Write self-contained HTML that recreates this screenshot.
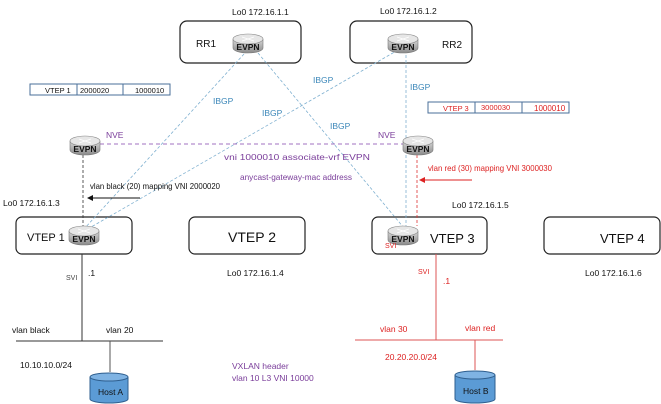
<!DOCTYPE html><html><head><style>body{margin:0;background:#fff}svg{display:block}text{font-family:"Liberation Sans Narrow","Liberation Sans",sans-serif}</style></head><body>
<svg width="661" height="404" viewBox="0 0 661 404" xmlns="http://www.w3.org/2000/svg">
<defs>
<linearGradient id="g" x1="0" y1="0" x2="0" y2="1"><stop offset="0" stop-color="#d8d8d8"/><stop offset="1" stop-color="#8a8a8a"/></linearGradient>
<g id="r"><path d="M-15,-4 v9 a15,5 0 0 0 30,0 v-9" fill="url(#g)" stroke="#777" stroke-width="0.6"/><ellipse cx="0" cy="-4" rx="15" ry="5" fill="#e6e6e6" stroke="#888" stroke-width="0.6"/><path d="M-6,-6 l12,4 M6,-6 l-12,4" stroke="#fff" stroke-width="0.8"/><text x="0" y="7" font-size="8.5" font-weight="bold" text-anchor="middle" fill="#111">EVPN</text></g>
</defs>
<g fill="none" stroke-width="1.2" stroke="#222">
<rect x="180" y="21" width="121" height="42" rx="7"/><rect x="350" y="21" width="122" height="42" rx="7"/>
<rect x="16" y="217" width="116" height="37" rx="6"/><rect x="189" y="217" width="116" height="37" rx="6"/>
<rect x="372" y="217" width="115" height="37" rx="6"/><rect x="544" y="217" width="116" height="37" rx="6"/>
</g>
<g stroke="#7fb0d0" stroke-width="0.8" stroke-dasharray="3,2" fill="none">
<line x1="244" y1="54" x2="84" y2="229"/><line x1="398" y1="50" x2="86" y2="230"/>
<line x1="258" y1="53" x2="404" y2="228"/><line x1="406" y1="55" x2="406" y2="228"/>
</g>
<line x1="100" y1="144" x2="404" y2="144" stroke="#a070c0" stroke-width="1" stroke-dasharray="4,3"/>
<line x1="83" y1="155" x2="83" y2="226" stroke="#333" stroke-width="0.8" stroke-dasharray="3,2"/>
<line x1="417" y1="155" x2="417" y2="226" stroke="#d33" stroke-width="0.8" stroke-dasharray="3,2"/>
<line x1="140" y1="198" x2="91" y2="198" stroke="#111"/><path d="M87,198 l6,-3 v6z" fill="#111"/>
<line x1="472" y1="180" x2="424" y2="180" stroke="#d22"/><path d="M419,180 l6,-3 v6z" fill="#d22"/>
<use href="#r" x="248" y="43"/><use href="#r" x="403" y="43"/><use href="#r" x="85" y="145"/><use href="#r" x="418" y="145"/><use href="#r" x="84" y="235"/><use href="#r" x="403" y="235"/>
<g fill="none" stroke-width="1">
<rect x="30" y="84" width="140" height="11" stroke="#4a6f9a"/><line x1="77" y1="84" x2="77" y2="95" stroke="#4a6f9a"/><line x1="123" y1="84" x2="123" y2="95" stroke="#4a6f9a"/>
<rect x="428" y="102" width="141" height="11" stroke="#4a6f9a"/><line x1="475" y1="102" x2="475" y2="113" stroke="#4a6f9a"/><line x1="522" y1="102" x2="522" y2="113" stroke="#4a6f9a"/>
<line x1="82" y1="254" x2="82" y2="341" stroke="#333"/><line x1="16" y1="341" x2="163" y2="341" stroke="#333"/><line x1="110" y1="341" x2="110" y2="372" stroke="#555"/>
<line x1="436" y1="254" x2="436" y2="340" stroke="#d55"/><line x1="355" y1="340" x2="503" y2="340" stroke="#d55"/><line x1="475" y1="340" x2="475" y2="370" stroke="#d55"/>
</g>
<g stroke="#2f5f8f" stroke-width="1"><path d="M90,377 v22 a19,4 0 0 0 38,0 v-22" fill="#5b9bd5"/><ellipse cx="109" cy="377" rx="19" ry="4" fill="#7fb3e3"/>
<path d="M455,375 v24 a20,4 0 0 0 40,0 v-24" fill="#5b9bd5"/><ellipse cx="475" cy="375" rx="20" ry="4" fill="#7fb3e3"/></g>
<g font-size="8.5" fill="#111">
<text x="232" y="15">Lo0 172.16.1.1</text><text x="380" y="14">Lo0 172.16.1.2</text>
<text x="196" y="47" font-size="10">RR1</text><text x="442" y="48" font-size="10">RR2</text>
<text x="3" y="206">Lo0 172.16.1.3</text><text x="227" y="276">Lo0 172.16.1.4</text><text x="452" y="208">Lo0 172.16.1.5</text><text x="585" y="276">Lo0 172.16.1.6</text>
<text x="27" y="241" font-size="11">VTEP 1</text><text x="228" y="242" font-size="14">VTEP 2</text><text x="430" y="243" font-size="13">VTEP 3</text><text x="600" y="243" font-size="13">VTEP 4</text>
<text x="90" y="189" textLength="130" lengthAdjust="spacingAndGlyphs">vlan black (20) mapping VNI 2000020</text>
<text x="88" y="276">.1</text><text x="66" y="280" font-size="7" fill="#444">SVI</text>
<text x="12" y="333">vlan black</text><text x="106" y="333">vlan 20</text><text x="20" y="368">10.10.10.0/24</text>
<text x="98" y="395">Host A</text><text x="463" y="394">Host B</text>
<text x="45" y="93" font-size="7.5">VTEP 1</text><text x="80" y="93" font-size="7.5">2000020</text><text x="135" y="93" font-size="7.5">1000010</text>
</g>
<g font-size="8.5" fill="#d22">
<text x="428" y="171" textLength="124" lengthAdjust="spacingAndGlyphs">vlan red (30) mapping VNI 3000030</text>
<text x="385" y="248" font-size="7">SVI</text><text x="418" y="274" font-size="7">SVI</text><text x="443" y="284">.1</text>
<text x="380" y="332">vlan 30</text><text x="465" y="331">vlan red</text><text x="385" y="360">20.20.20.0/24</text>
<text x="443" y="111" font-size="7.5">VTEP 3</text><text x="481" y="110" font-size="7.5">3000030</text><text x="534" y="111" font-size="8">1000010</text>
</g>
<g font-size="8.5" fill="#7a3d9a">
<text x="106" y="138">NVE</text><text x="378" y="138">NVE</text>
<text x="224" y="160" textLength="146" lengthAdjust="spacingAndGlyphs">vni 1000010 associate-vrf EVPN</text><text x="240" y="180" textLength="112" lengthAdjust="spacingAndGlyphs">anycast-gateway-mac address</text>
<text x="232" y="369">VXLAN header</text><text x="232" y="381">vlan 10 L3 VNI 10000</text>
</g>
<g font-size="8.5" fill="#3a86b8">
<text x="213" y="104">IBGP</text><text x="262" y="116">IBGP</text><text x="313" y="83">IBGP</text><text x="330" y="129">IBGP</text><text x="410" y="90">IBGP</text>
</g>
</svg></body></html>
